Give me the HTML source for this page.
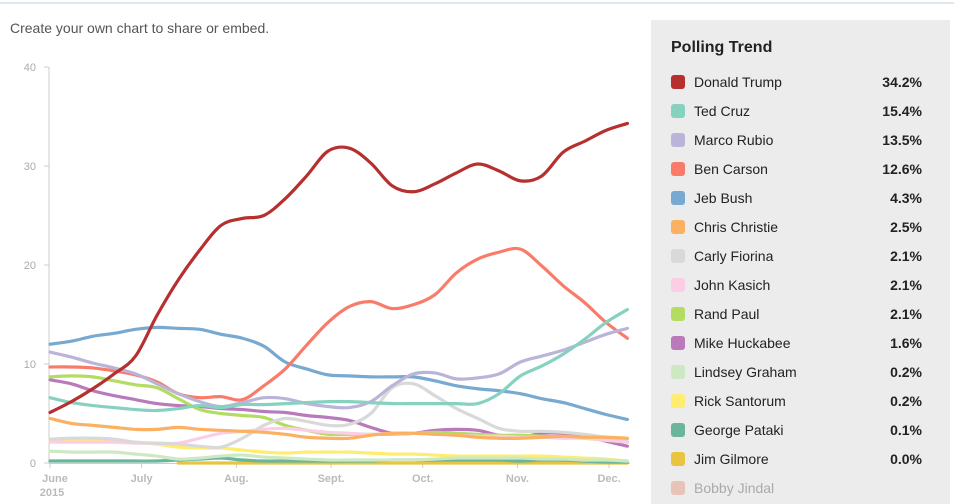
<!DOCTYPE html>
<html><head><meta charset="utf-8"><style>
body{margin:0;width:954px;height:504px;overflow:hidden;background:#fff;font-family:"Liberation Sans",sans-serif;position:relative}
#topline{position:absolute;left:0;top:2px;width:954px;height:2px;background:#dde8ee}
#caption{position:absolute;left:10px;top:20px;font-size:14px;color:#555}
#legend{position:absolute;left:651px;top:20px;width:299px;height:484px;background:#ececec}
#legend h3{margin:0;position:absolute;left:20px;top:19px;font-size:16px;font-weight:bold;color:#222}
.row{position:absolute;left:20px;width:251px;height:20px;font-size:14px;color:#222}
.sw{position:absolute;left:0;top:2px;width:14px;height:14px;border-radius:3px}
.nm{position:absolute;left:23px;top:1px}
.vl{position:absolute;right:0;top:1px;font-weight:bold}
svg{position:absolute;left:0;top:0}
</style></head><body>
<div id="topline"></div>
<div id="caption">Create your own chart to share or embed.</div>
<svg id="chart" width="640" height="504"></svg>
<div id="legend"><h3>Polling Trend</h3></div>
<script>
const days=[0,7,14,21,28,35,42,49,56,63,70,77,84,91,98,105,112,119,126,133,140,147,154,161,168,175,182,189];
const names=["Donald Trump","Ted Cruz","Marco Rubio","Ben Carson","Jeb Bush","Chris Christie","Carly Fiorina","John Kasich","Rand Paul","Mike Huckabee","Lindsey Graham","Rick Santorum","George Pataki","Jim Gilmore","Bobby Jindal"];
const latest=["34.2%","15.4%","13.5%","12.6%","4.3%","2.5%","2.1%","2.1%","2.1%","1.6%","0.2%","0.2%","0.1%","0.0%",""];
const colors=["#b5302f","#86d1c0","#bbb4d9","#f97c6b","#78a9d0","#fbb062","#d9d9d9","#fccde4","#b3dc62","#b979bb","#cce9c3","#ffed6f","#6ab59b","#e8c43f","#e8c4b8"];
const trump=[5.1,6.2,7.5,9.0,10.8,14.9,18.5,21.5,24.0,24.7,25.0,26.7,29.0,31.5,31.8,30.3,28.0,27.4,28.2,29.3,30.2,29.5,28.5,29.0,31.4,32.5,33.6,34.3];
const cruz=[6.6,6.1,5.8,5.6,5.4,5.3,5.5,5.8,5.6,5.9,5.9,6.0,6.1,6.2,6.2,6.1,6.0,6.0,6.0,6.0,6.0,7.0,8.8,9.8,11.0,12.5,14.2,15.5];
const rubio=[11.2,10.7,10.1,9.6,9.0,8.0,7.0,6.2,5.7,6.1,6.6,6.5,6.0,5.7,5.6,6.2,7.8,9.0,9.1,8.5,8.6,9.0,10.2,10.8,11.4,12.2,13.0,13.6];
const carson=[9.7,9.7,9.6,9.3,8.9,8.2,7.0,6.6,6.7,6.4,7.8,9.5,11.9,14.2,15.8,16.3,15.6,16.0,17.0,19.2,20.6,21.3,21.6,19.9,17.9,16.2,14.2,12.6];
const bush=[12.0,12.3,12.8,13.1,13.5,13.7,13.6,13.5,13.0,12.6,11.8,10.2,9.5,8.9,8.8,8.7,8.7,8.7,8.3,7.8,7.5,7.3,7.0,6.5,6.1,5.5,4.9,4.4];
const christie=[4.5,4.0,3.8,3.6,3.4,3.4,3.6,3.4,3.3,3.2,3.1,2.9,2.6,2.5,2.5,2.8,3.0,3.0,2.9,2.8,2.6,2.5,2.5,2.6,2.7,2.6,2.6,2.5];
const fiorina=[2.4,2.5,2.5,2.4,2.1,2.0,1.9,1.7,1.6,2.5,3.8,4.5,4.2,3.8,3.9,5.0,7.6,8.0,6.8,5.5,4.5,3.5,3.2,3.2,3.1,2.9,2.6,2.4];
const kasich=[2.1,2.1,2.1,2.1,2.0,2.0,2.0,2.5,3.0,3.2,3.4,3.5,3.3,3.1,3.0,2.9,3.0,3.0,2.9,2.8,2.7,2.7,2.6,2.6,2.5,2.5,2.3,2.1];
const paul=[8.7,8.8,8.7,8.3,7.9,7.6,6.5,5.4,5.0,4.8,4.6,3.8,3.3,2.9,2.9,2.9,2.9,3.0,3.1,3.0,2.9,2.8,2.8,2.7,2.6,2.5,2.3,2.1];
const huckabee=[8.4,8.0,7.3,6.8,6.4,6.0,5.8,5.7,5.5,5.4,5.2,5.1,4.8,4.6,4.3,3.6,3.0,3.0,3.3,3.4,3.3,2.8,2.6,3.0,3.0,2.7,2.2,1.7];
const graham=[1.2,1.1,1.1,1.1,0.9,0.7,0.4,0.5,0.7,0.8,0.6,0.5,0.4,0.3,0.3,0.3,0.3,0.3,0.4,0.5,0.5,0.5,0.5,0.4,0.4,0.3,0.3,0.2];
const santorum=[2.2,2.2,2.3,2.3,2.1,1.9,1.6,1.5,1.5,1.3,1.1,1.0,1.1,1.1,1.1,1.0,0.9,0.9,0.8,0.7,0.7,0.7,0.7,0.7,0.6,0.5,0.4,0.2];
const pataki=[0.2,0.2,0.2,0.2,0.2,0.2,0.3,0.4,0.5,0.3,0.2,0.2,0.2,0.2,0.2,0.2,0.3,0.3,0.3,0.3,0.3,0.3,0.2,0.3,0.3,0.2,0.1,0.1];
const gilmore=[null,null,null,null,null,null,0.0,0.0,0.0,0.0,0.0,0.0,0.0,0.0,0.0,0.0,0.0,0.0,0.0,0.0,0.0,0.0,0.0,0.0,0.0,0.0,0.0,0.0];
const series=[trump,cruz,rubio,carson,bush,christie,fiorina,kasich,paul,huckabee,graham,santorum,pataki,gilmore];
const yTicks=[0,10,20,30,40];
const monthDays=[0,30,61,92,122,153,183];
const monthLabels=["June","July","Aug.","Sept.","Oct.","Nov.","Dec."];

const NS="http://www.w3.org/2000/svg";
const svg=document.getElementById('chart');
const X=d=>50+d*3.055;
const Y=v=>463-v*9.9;
function mk(t,a){const e=document.createElementNS(NS,t);for(const k in a)e.setAttribute(k,a[k]);return e;}
// axes
const ya=mk('line',{x1:49,y1:67,x2:49,y2:463,stroke:'#ccc','stroke-width':1});


svg.appendChild(ya);
const xa=mk('line',{x1:49,y1:463.5,x2:630,y2:463.5,stroke:'#ccc','stroke-width':1});


svg.appendChild(xa);
yTicks.forEach(v=>{
 const t=mk('line',{x1:44,x2:49,y1:Y(v),y2:Y(v),stroke:'#ccc'});svg.appendChild(t);
 const l=mk('text',{x:36,y:Y(v)+4,'text-anchor':'end','font-size':11,fill:'#aaa','font-family':'Liberation Sans'});
 l.textContent=v;
 
 
 svg.appendChild(l);
});
monthDays.forEach((d,i)=>{
 const t=mk('line',{x1:X(d),x2:X(d),y1:463,y2:468,stroke:'#ccc'});svg.appendChild(t);
 const l=mk('text',{x:X(d)+(i==0?5:0),y:482,'text-anchor':'middle','font-size':11,'font-weight':'bold',fill:'#bbb','font-family':'Liberation Sans'});
 l.textContent=monthLabels[i];
 
 
 svg.appendChild(l);
});
const yr=mk('text',{x:52,y:496,'text-anchor':'middle','font-size':11,'font-weight':'bold',fill:'#bbb','font-family':'Liberation Sans'});
yr.textContent='2015';


svg.appendChild(yr);
function pathFor(vals){
 const pts=[];vals.forEach((v,i)=>{if(v!==null)pts.push([X(days[i]),Y(v)]);});
 let d='M'+pts[0][0]+','+pts[0][1];
 for(let i=0;i<pts.length-1;i++){
  const p0=pts[Math.max(0,i-1)],p1=pts[i],p2=pts[i+1],p3=pts[Math.min(pts.length-1,i+2)];
  const c1=[p1[0]+(p2[0]-p0[0])/6,p1[1]+(p2[1]-p0[1])/6],c2=[p2[0]-(p3[0]-p1[0])/6,p2[1]-(p3[1]-p1[1])/6];
  d+=`C${c1[0]},${c1[1]} ${c2[0]},${c2[1]} ${p2[0]},${p2[1]}`;
 }
 return d;
}
for(let i=series.length-1;i>=0;i--){
 const p=mk('path',{d:pathFor(series[i]),fill:'none',stroke:colors[i],'stroke-width':3.2,'stroke-linejoin':'round','stroke-linecap':'round'});
 
 
 svg.appendChild(p);
}
const lg=document.getElementById('legend');
names.forEach((n,i)=>{
 const r=document.createElement('div');r.className='row';r.style.top=(53+i*29)+'px';
 
 
 r.innerHTML=`<div class="sw" style="background:${colors[i]}"></div><div class="nm"${i==14?' style="color:#aaa"':''}>${n}</div><div class="vl">${latest[i]}</div>`;
 lg.appendChild(r);
});
</script>
</body></html>
